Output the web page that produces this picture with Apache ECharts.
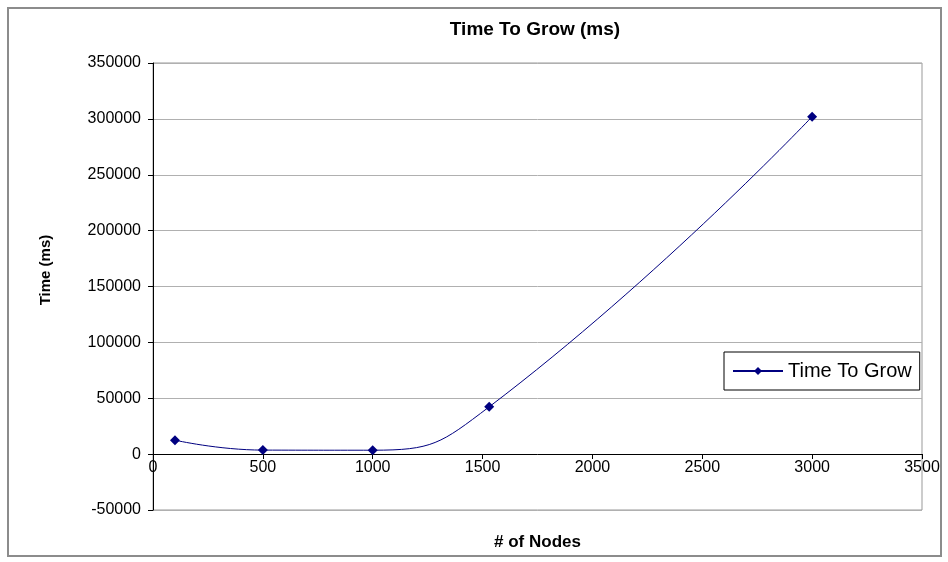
<!DOCTYPE html>
<html>
<head>
<meta charset="utf-8">
<script src="https://cdn.jsdelivr.net/npm/echarts@6/dist/echarts.min.js"></script>
<style>
  html, body { margin: 0; padding: 0; background: #fff; }
  #chart { width: 948px; height: 562px; }
</style>
</head>
<body>
<div id="chart"></div>
<script>
  // data
  const nodes = [100, 500, 1000, 1530, 3000]
  const timeMs = [12500, 3600, 3500, 42300, 302000]
  const seriesName = 'Time To Grow'

  const chart = echarts.init(document.getElementById('chart'))

  const points = nodes.map((n, i) => [n, timeMs[i]])

  const option = {
    animation: false,
    backgroundColor: '#fff',
    textStyle: { fontFamily: 'Liberation Sans, Arial, sans-serif' },
    title: {
      text: 'Time To Grow (ms)',
      left: 530,
      top: 15,
      textAlign: 'center',
      textStyle: { fontSize: 19, fontWeight: 'bold', color: '#000' },
    },
    graphic: [
      // outer chart border
      {
        type: 'rect',
        shape: { x: 8, y: 8, width: 933, height: 548 },
        style: { fill: 'none', stroke: '#8c8c8c', lineWidth: 2 },
        z: -1,
      },
      // y axis title
      {
        type: 'text',
        x: 46,
        y: 270,
        rotation: Math.PI / 2,
        style: {
          text: 'Time (ms)',
          fontSize: 15,
          fontWeight: 'bold',
          fontFamily: 'Liberation Sans, Arial, sans-serif',
          fill: '#000',
          align: 'center',
          verticalAlign: 'middle',
        },
      },
    ],
    legend: {
      data: [seriesName],
      left: 724,
      top: 352,
      padding: [9, 8, 9, 8],
      itemWidth: 50,
      itemHeight: 10,
      itemGap: 6,
      borderColor: '#000',
      borderWidth: 1,
      backgroundColor: '#fff',
      textStyle: { fontSize: 20, color: '#000' },
    },
    grid: {
      left: 153,
      right: 26,
      top: 63,
      bottom: 52,
      outerBoundsMode: 'none',
      containLabel: false,
      show: true,
      borderColor: '#999',
      borderWidth: 1,
      backgroundColor: '#fff',
    },
    xAxis: {
      type: 'value',
      min: 0,
      max: 3500,
      interval: 500,
      position: 'bottom',
      // axis sits on the y = 0 line, labels just under it
      offset: -56,
      name: '# of Nodes',
      nameLocation: 'middle',
      nameGap: 80,
      nameMoveOverlap: false,
      nameTextStyle: { fontSize: 17, fontWeight: 'bold', color: '#000' },
      axisLine: { show: true, onZero: false, lineStyle: { color: '#000', width: 1 } },
      axisTick: { show: true, inside: false, length: 5, lineStyle: { color: '#000' } },
      axisLabel: { fontSize: 16, color: '#000', margin: 6, formatter: (v) => String(v) },
      splitLine: { show: false },
    },
    yAxis: {
      type: 'value',
      min: -50000,
      max: 350000,
      interval: 50000,
      axisLine: { show: true, lineStyle: { color: '#000', width: 1 } },
      axisTick: { show: true, inside: false, length: 5, lineStyle: { color: '#000' } },
      axisLabel: { fontSize: 16, color: '#000', margin: 12, formatter: (v) => String(v) },
      splitLine: { show: true, lineStyle: { color: '#b0b0b0', width: 1 } },
    },
    series: [
      {
        name: seriesName,
        type: 'line',
        data: points,
        smooth: 0.5,
        symbol: 'diamond',
        symbolSize: 10,
        lineStyle: { color: '#000080', width: 1 },
        itemStyle: { color: '#000080' },
      },
    ],
  }

  chart.setOption(option)
</script>
</body>
</html>
